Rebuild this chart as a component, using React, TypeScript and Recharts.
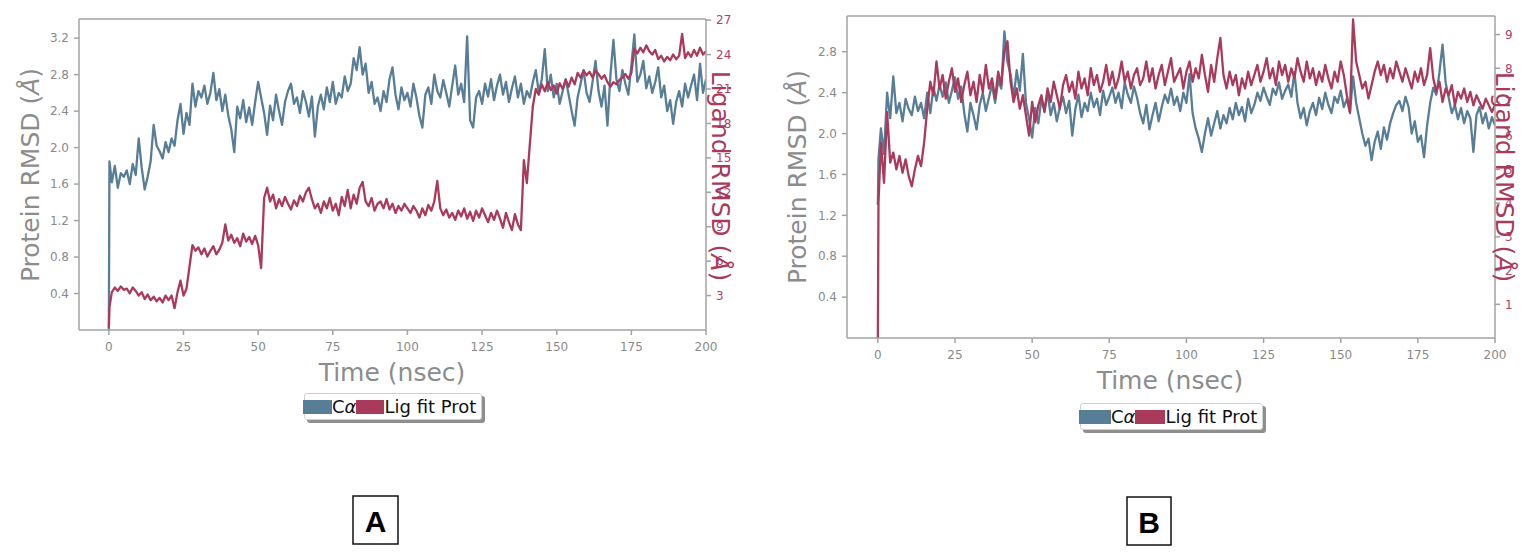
import React from "react"
import { LineChart, Line, XAxis, YAxis, ReferenceLine } from "recharts"

const COLORS = {
  ca: "#587d96",
  lig: "#a93a5c",
  axis: "#a3a3a3",
  tick: "#8a8a8a",
  ligTick: "#b0426a",
  title: "#8c8c8c",
}

// time in nsec (first two frames resolve the jump at t = 0)
const TIME = [
  0, 0.2,
  1, 2, 3, 4, 5, 6, 7, 8, 9, 10, 11, 12, 13, 14, 15, 16, 17, 18, 19, 20,
  21, 22, 23, 24, 25, 26, 27, 28, 29, 30, 31, 32, 33, 34, 35, 36, 37, 38, 39, 40,
  41, 42, 43, 44, 45, 46, 47, 48, 49, 50, 51, 52, 53, 54, 55, 56, 57, 58, 59, 60,
  61, 62, 63, 64, 65, 66, 67, 68, 69, 70, 71, 72, 73, 74, 75, 76, 77, 78, 79, 80,
  81, 82, 83, 84, 85, 86, 87, 88, 89, 90, 91, 92, 93, 94, 95, 96, 97, 98, 99, 100,
  101, 102, 103, 104, 105, 106, 107, 108, 109, 110, 111, 112, 113, 114, 115, 116, 117, 118, 119, 120,
  121, 122, 123, 124, 125, 126, 127, 128, 129, 130, 131, 132, 133, 134, 135, 136, 137, 138, 139, 140,
  141, 142, 143, 144, 145, 146, 147, 148, 149, 150, 151, 152, 153, 154, 155, 156, 157, 158, 159, 160,
  161, 162, 163, 164, 165, 166, 167, 168, 169, 170, 171, 172, 173, 174, 175, 176, 177, 178, 179, 180,
  181, 182, 183, 184, 185, 186, 187, 188, 189, 190, 191, 192, 193, 194, 195, 196, 197, 198, 199, 200,
]

// Panel A – protein C-alpha RMSD (Å, left axis)
const A_CA = [
  0.0, 1.85,
  1.62, 1.80, 1.56, 1.72, 1.68, 1.75, 1.60, 1.82, 1.70, 2.10,
  1.78, 1.54, 1.68, 1.85, 2.25, 2.02, 1.96, 1.88, 2.06, 1.95,
  2.10, 2.02, 2.30, 2.48, 2.15, 2.38, 2.25, 2.70, 2.45, 2.62,
  2.55, 2.68, 2.48, 2.60, 2.82, 2.52, 2.64, 2.40, 2.58, 2.35,
  2.20, 1.95, 2.45, 2.32, 2.52, 2.28, 2.44, 2.25, 2.50, 2.72,
  2.55, 2.38, 2.14, 2.46, 2.30, 2.58, 2.40, 2.25, 2.50, 2.62,
  2.70, 2.48, 2.55, 2.38, 2.62, 2.50, 2.34, 2.56, 2.12, 2.45,
  2.58, 2.42, 2.66, 2.50, 2.72, 2.48, 2.60, 2.55, 2.78, 2.62,
  2.70, 2.98, 2.85, 3.10, 2.80, 2.92, 2.60, 2.72, 2.48, 2.55,
  2.40, 2.62, 2.50, 2.75, 2.88, 2.58, 2.42, 2.66, 2.52, 2.60,
  2.45, 2.70, 2.55, 2.35, 2.22, 2.58, 2.66, 2.48, 2.80, 2.62,
  2.55, 2.74, 2.60, 2.45, 2.68, 2.90, 2.58, 2.70, 2.50, 3.22,
  2.30, 2.22, 2.55, 2.62, 2.48, 2.70, 2.56, 2.75, 2.52, 2.68,
  2.80, 2.58, 2.72, 2.50, 2.65, 2.78, 2.55, 2.70, 2.48, 2.62,
  2.55, 2.72, 2.85, 2.60, 2.75, 3.08, 2.62, 2.80, 2.55, 2.70,
  2.48, 2.62, 2.75, 2.58, 2.40, 2.24, 2.55, 2.70, 2.85, 2.60,
  2.50, 2.72, 2.95, 2.62, 2.45, 2.68, 2.24, 2.80, 3.18, 2.75,
  2.62, 2.85, 2.70, 2.58, 2.90, 3.24, 2.72, 2.80, 2.95, 2.65,
  2.78, 2.60, 2.72, 2.88, 2.55, 2.68, 2.40, 2.52, 2.26, 2.50,
  2.62, 2.45, 2.70, 2.55, 2.68, 2.80, 2.52, 2.92, 2.60, 2.75,
]

// Panel A – ligand fit on protein RMSD (Å, right axis)
const A_LIG = [
  0.2, 2.0,
  3.3, 3.7, 3.4, 3.8, 3.5, 3.6, 3.2, 3.7, 3.4, 3.0,
  3.3, 2.7, 3.1, 2.6, 2.9, 2.5, 2.8, 2.4, 3.0, 2.6,
  3.0, 1.9, 3.3, 4.3, 3.0, 3.6, 5.5, 7.4, 6.9, 7.2,
  6.6, 7.1, 6.4, 6.9, 7.3, 6.6, 7.0, 7.6, 9.2, 7.8,
  8.3, 7.6, 8.0, 7.3, 8.4, 7.7, 8.1, 7.5, 8.2, 7.4,
  5.4, 11.5, 12.4, 11.2, 11.8, 10.6, 11.4, 10.8, 11.6, 11.0,
  10.5, 11.3, 10.8, 11.7, 11.2, 12.0, 12.4, 11.4, 10.6, 11.0,
  10.2, 11.2, 10.6, 11.5, 10.4, 11.0, 10.0, 11.6, 10.8, 12.2,
  10.6, 11.8, 11.0, 12.4, 12.9, 11.2, 10.8, 11.5, 10.4, 11.0,
  11.2, 10.6, 11.4, 10.5, 11.0, 10.2, 10.8, 10.4, 11.0, 10.6,
  10.2, 10.8, 10.4, 9.8, 10.6, 10.0, 10.9, 10.4, 11.2, 13.0,
  10.6, 10.0, 10.5, 9.8, 10.2, 9.6, 10.4, 9.9, 10.6, 9.7,
  10.3, 9.5, 10.4, 9.8, 10.6, 10.0, 9.4, 10.2, 9.6, 10.4,
  9.7, 8.9, 10.2, 9.4, 8.7, 10.1, 9.2, 8.7, 14.8, 12.8,
  16.2, 19.5, 21.0, 20.5, 21.4, 20.8, 21.6, 20.9, 21.3, 20.6,
  21.5, 21.0, 21.8, 21.2, 22.0, 21.4, 22.4, 22.0, 22.6, 22.2,
  22.5, 22.0, 22.6, 22.3, 21.9, 22.2, 21.6, 21.2, 21.6, 21.4,
  21.8, 22.0, 22.3, 21.9, 22.4, 24.5, 24.1, 24.6, 24.2, 24.8,
  24.3, 24.0, 24.4, 23.6, 23.9, 23.4, 23.8, 23.5, 24.0, 23.6,
  23.9, 25.8, 23.7, 24.2, 23.8, 24.4, 23.9, 24.6, 24.0, 24.3,
]

// Panel B – protein C-alpha RMSD (Å, left axis)
const B_CA = [
  1.30, 1.75,
  2.05, 1.80, 2.40, 2.15, 2.56, 2.20, 2.30, 2.12, 2.34, 2.24,
  2.18, 2.36, 2.22, 2.30, 2.15, 2.40, 2.20, 2.45, 2.32, 2.48,
  2.36, 2.50, 2.30, 2.42, 2.55, 2.34, 2.46, 2.20, 2.02, 2.30,
  2.18, 2.04, 2.28, 2.40, 2.22, 2.35, 2.48, 2.30, 2.52, 2.44,
  3.00, 2.70, 2.58, 2.35, 2.62, 2.42, 2.78, 2.30, 2.15, 1.96,
  2.25, 2.10, 2.34, 2.22, 2.40, 2.18, 2.30, 2.12, 2.26, 2.36,
  2.20, 2.32, 1.98, 2.24, 2.38, 2.16, 2.30, 2.22, 2.40, 2.26,
  2.34, 2.18, 2.42, 2.28, 2.36, 2.45, 2.30, 2.40, 2.25, 2.50,
  2.38, 2.30, 2.46, 2.35, 2.20, 2.10, 2.28, 2.04, 2.18, 2.30,
  2.12, 2.26, 2.38, 2.30, 2.44, 2.28, 2.36, 2.22, 2.40, 2.30,
  2.58, 2.20, 2.05, 1.95, 1.82, 2.00, 2.15, 1.98, 2.10, 2.22,
  2.05, 2.18, 2.10, 2.25, 2.14, 2.30, 2.18, 2.26, 2.12, 2.34,
  2.20, 2.28, 2.40, 2.32, 2.45, 2.36, 2.28, 2.44, 2.38, 2.50,
  2.34, 2.42, 2.48, 2.36, 2.60, 2.30, 2.15, 2.25, 2.08, 2.22,
  2.30, 2.18, 2.35, 2.24, 2.40, 2.28, 2.20, 2.36, 2.30, 2.42,
  2.26, 2.34, 2.20, 2.56, 2.30, 2.15, 2.00, 1.88, 1.95, 1.74,
  1.92, 2.02, 1.85, 2.06, 1.94, 2.10, 2.20, 2.28, 2.32, 2.22,
  2.36, 2.26, 2.00, 2.12, 1.92, 1.98, 1.77, 2.08, 2.30, 2.45,
  2.38, 2.60, 2.87, 2.50, 2.35, 2.20, 2.28, 2.14, 2.25, 2.10,
  2.22, 2.15, 1.82, 2.18, 2.26, 2.10, 2.20, 2.05, 2.16, 2.08,
]

// Panel B – ligand fit on protein RMSD (Å, right axis)
const B_LIG = [
  0.0, 4.0,
  5.8, 4.6, 6.7, 5.2, 5.5, 5.0, 5.4, 4.9, 5.3, 4.8,
  4.5, 5.0, 5.4, 5.1, 5.8, 6.8, 7.6, 7.2, 8.2, 7.4,
  7.8, 7.1, 7.6, 8.0, 7.3, 7.7, 7.0, 7.5, 7.9, 7.2,
  7.6, 7.0, 7.8, 7.3, 8.1, 7.4, 7.7, 7.1, 7.9, 7.5,
  8.5, 8.8, 7.6, 7.0, 7.4, 6.8, 7.2, 6.6, 6.0, 7.0,
  6.4, 6.9, 7.2, 6.7, 7.4, 7.0, 7.6, 7.2, 6.8, 7.5,
  7.8, 7.3, 7.6, 7.1, 7.9, 7.4, 7.7, 7.2, 8.0, 7.5,
  7.8, 7.3, 7.6, 8.1, 7.5, 7.9, 7.4, 7.7, 8.2, 7.6,
  7.9, 7.4, 7.8, 8.0, 7.5, 7.7, 8.2, 7.6, 8.0, 7.4,
  7.8, 8.1, 7.5, 7.9, 8.3, 7.6, 7.8, 8.0, 7.4, 7.9,
  8.2, 7.6, 8.0, 7.7, 8.4, 7.8, 7.3, 8.1, 7.6, 8.3,
  8.9, 7.8, 7.4, 7.9, 7.5, 7.8, 7.2, 7.7, 7.4, 7.9,
  7.5, 7.8, 8.1, 7.6, 7.9, 8.3, 7.7, 8.0, 7.5, 8.2,
  7.8, 8.1, 7.6, 8.0, 7.7, 8.3, 7.9, 7.6, 8.2, 7.7,
  8.0, 7.5, 7.9, 7.6, 8.1, 7.7, 7.4, 7.9, 7.6, 8.2,
  7.8, 7.2, 6.7, 9.45, 8.2, 7.8, 7.4, 7.6, 7.1, 7.5,
  7.9, 8.2, 7.8, 8.1, 7.6, 8.0, 7.7, 8.2, 7.9, 7.6,
  8.0, 7.7, 7.4, 7.9, 7.6, 8.0, 7.5, 7.8, 8.6, 7.7,
  7.3, 7.6, 7.0, 7.4, 7.2, 7.5, 6.9, 7.3, 7.1, 7.4,
  7.0, 7.3, 6.9, 7.2, 7.0, 6.8, 7.1, 6.9, 6.7, 6.9,
]

const X_TICKS = [0, 25, 50, 75, 100, 125, 150, 175, 200]
const A_LEFT_TICKS = [0.4, 0.8, 1.2, 1.6, 2.0, 2.4, 2.8, 3.2]
const A_RIGHT_TICKS = [3, 6, 9, 12, 15, 18, 21, 24, 27]
const B_LEFT_TICKS = [0.4, 0.8, 1.2, 1.6, 2.0, 2.4, 2.8]
const B_RIGHT_TICKS = [1, 2, 3, 4, 5, 6, 7, 8, 9]

const FONT = '"DejaVu Sans", sans-serif'

function toRows(ca: number[], lig: number[]) {
  return TIME.map((t, i) => ({ t, ca: ca[i], lig: lig[i] }))
}

type PanelProps = {
  ca: number[]
  lig: number[]
  leftMax: number
  rightMax: number
  leftTicks: number[]
  rightTicks: number[]
  width: number
  margin: { top: number; right: number; bottom: number; left: number }
}

function RmsdPanel({ ca, lig, leftMax, rightMax, leftTicks, rightTicks, width, margin }: PanelProps) {
  const data = toRows(ca, lig)
  const axisLine = { stroke: COLORS.axis, strokeWidth: 1.5 }
  return (
    <LineChart width={width} height={380} data={data} margin={margin}>
      <XAxis
        dataKey="t"
        type="number"
        domain={[-10, 200]}
        ticks={X_TICKS}
        allowDataOverflow
        height={30}
        tickSize={5}
        tickMargin={7}
        axisLine={axisLine}
        tickLine={axisLine}
        tick={{ fill: COLORS.tick, fontSize: 12, fontFamily: FONT }}
      />
      <YAxis
        yAxisId="left"
        orientation="left"
        width={60}
        domain={[0, leftMax]}
        ticks={leftTicks}
        allowDataOverflow
        tickSize={5}
        tickMargin={5}
        tickFormatter={(v: number) => v.toFixed(1)}
        axisLine={axisLine}
        tickLine={axisLine}
        tick={{ fill: COLORS.tick, fontSize: 12, fontFamily: FONT }}
      />
      <YAxis
        yAxisId="right"
        orientation="right"
        width={36}
        domain={[0, rightMax]}
        ticks={rightTicks}
        allowDataOverflow
        tickSize={5}
        tickMargin={5}
        axisLine={axisLine}
        tickLine={axisLine}
        tick={{ fill: COLORS.ligTick, fontSize: 12, fontFamily: FONT }}
      />
      {/* top spine */}
      <ReferenceLine yAxisId="left" y={leftMax} stroke={COLORS.axis} strokeWidth={1.5} />
      <Line yAxisId="left" type="linear" dataKey="ca" stroke={COLORS.ca} strokeWidth={2.3} strokeLinejoin="round" dot={false} isAnimationActive={false} />
      <Line yAxisId="right" type="linear" dataKey="lig" stroke={COLORS.lig} strokeWidth={2.3} strokeLinejoin="round" dot={false} isAnimationActive={false} />
    </LineChart>
  )
}

function LegendBox({ left, top, width, sw }: { left: number; top: number; width: number; sw: [number, number] }) {
  return (
    <div
      style={{
        position: "absolute", left, top, width, height: 27, boxSizing: "border-box",
        border: "1px solid #d0d0d0", borderRadius: 3, background: "#fff",
        boxShadow: "3px 3px 0 #8f8f8f", display: "flex", alignItems: "center",
        fontFamily: FONT, fontSize: 18, color: "#111", whiteSpace: "nowrap",
      }}
    >
      <span style={{ width: sw[0], height: 14, background: COLORS.ca, marginLeft: -2 }} />
      <span>C<i>α</i></span>
      <span style={{ width: sw[1], height: 14, background: COLORS.lig }} />
      <span>Lig fit Prot</span>
    </div>
  )
}

function Titles() {
  const common = { fontFamily: FONT, fontSize: 25, textAnchor: "middle" as const, dominantBaseline: "central" as const }
  return (
    <svg width={1532} height={554} style={{ position: "absolute", left: 0, top: 0, pointerEvents: "none" }}>
      {/* panel A */}
      <text x={30} y={175} transform="rotate(-90 30 175)" fill={COLORS.title} {...common}>
        Protein RMSD (<tspan fontStyle="italic">Å</tspan>)
      </text>
      <text x={720} y={176} transform="rotate(90 720 176)" fill={COLORS.lig} {...common}>
        Ligand RMSD (<tspan fontStyle="italic">Å</tspan>)
      </text>
      <text x={392} y={372} fill={COLORS.title} {...common}>Time (nsec)</text>
      {/* panel B */}
      <text x={797} y={177} transform="rotate(-90 797 177)" fill={COLORS.title} {...common}>
        Protein RMSD (<tspan fontStyle="italic">Å</tspan>)
      </text>
      <text x={1504} y={177} transform="rotate(90 1504 177)" fill={COLORS.lig} {...common}>
        Ligand RMSD (<tspan fontStyle="italic">Å</tspan>)
      </text>
      <text x={1170} y={380} fill={COLORS.title} {...common}>Time (nsec)</text>
      {/* panel tags */}
      <rect x={353} y={496} width={45} height={48} fill="#fff" stroke="#111" strokeWidth={1.5} />
      <text x={375.5} y={521} fontFamily='"Liberation Sans", Arial, sans-serif' fontWeight="bold" fontSize={30}
        textAnchor="middle" dominantBaseline="central" fill="#000">A</text>
      <rect x={1127} y={497} width={44} height={48} fill="#fff" stroke="#111" strokeWidth={1.5} />
      <text x={1149} y={522} fontFamily='"Liberation Sans", Arial, sans-serif' fontWeight="bold" fontSize={30}
        textAnchor="middle" dominantBaseline="central" fill="#000">B</text>
    </svg>
  )
}

export default function App() {
  return (
    <div style={{ position: "absolute", left: 0, top: 0, width: 1532, height: 554, background: "#fff", overflow: "hidden" }}>
      <div style={{ position: "absolute", left: 0, top: 0 }}>
        <RmsdPanel
          ca={A_CA} lig={A_LIG} leftMax={3.41} rightMax={27.1}
          leftTicks={A_LEFT_TICKS} rightTicks={A_RIGHT_TICKS}
          width={770} margin={{ top: 19, right: 28, bottom: 20, left: 19 }}
        />
      </div>
      <div style={{ position: "absolute", left: 770, top: 0 }}>
        <RmsdPanel
          ca={B_CA} lig={B_LIG} leftMax={3.15} rightMax={9.55}
          leftTicks={B_LEFT_TICKS} rightTicks={B_RIGHT_TICKS}
          width={762} margin={{ top: 16, right: 1, bottom: 12, left: 17 }}
        />
      </div>
      <Titles />
      <LegendBox left={304} top={393} width={178} sw={[29, 28]} />
      <LegendBox left={1080} top={403} width={183} sw={[32, 30]} />
    </div>
  )
}
